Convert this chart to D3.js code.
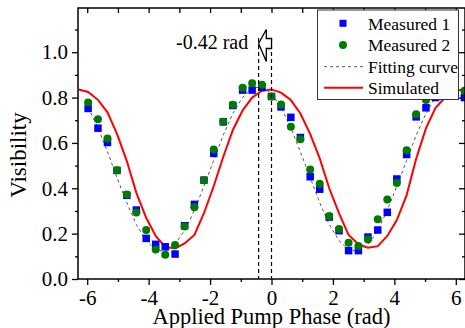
<!DOCTYPE html>
<html>
<head>
<meta charset="utf-8">
<script src="https://cdn.jsdelivr.net/npm/d3@7"></script>
<style>
  html, body { margin: 0; padding: 0; background: #fff; }
  svg { display: block; font-family: "Liberation Serif", "Times New Roman", serif; }
</style>
</head>
<body>
<svg id="chart" width="465" height="328"></svg>
<script>
// phase grid (rad), steps of pi/10
const phase = [-6.28, -5.97, -5.65, -5.34, -5.03, -4.71, -4.40, -4.08, -3.77, -3.46,
  -3.14, -2.83, -2.51, -2.20, -1.88, -1.57, -1.26, -0.94, -0.63, -0.31,
  0.00, 0.31, 0.63, 0.94, 1.26, 1.57, 1.88, 2.20, 2.51, 2.83,
  3.14, 3.46, 3.77, 4.08, 4.40, 4.71, 5.03, 5.34, 5.65, 5.97, 6.28];

// measured points start at the second grid value
const measured1 = [0.752, 0.665, 0.602, 0.479, 0.369, 0.304, 0.179, 0.153, 0.142,
  0.110, 0.235, 0.329, 0.436, 0.554, 0.693, 0.765, 0.833, 0.833, 0.845,
  0.805, 0.759, 0.713, 0.624, 0.451, 0.396, 0.273, 0.213, 0.125, 0.125,
  0.185, 0.216, 0.294, 0.441, 0.549, 0.715, 0.755, 0.800, 0.830, 0.840, 0.800];
const measured2 = [0.778, 0.704, 0.620, 0.479, 0.373, 0.293, 0.216, 0.130, 0.107,
  0.150, 0.232, 0.316, 0.435, 0.571, 0.693, 0.768, 0.843, 0.863, 0.857,
  0.805, 0.770, 0.671, 0.616, 0.483, 0.420, 0.278, 0.221, 0.160, 0.146,
  0.174, 0.263, 0.351, 0.423, 0.568, 0.726, 0.789, 0.810, 0.840, 0.850, 0.830];
const fitting = [0.756, 0.667, 0.561, 0.447, 0.336, 0.240, 0.169, 0.128, 0.122,
  0.152, 0.214, 0.303, 0.409, 0.523, 0.634, 0.730, 0.801, 0.842, 0.848,
  0.818, 0.756, 0.667, 0.561, 0.447, 0.336, 0.240, 0.169, 0.128, 0.122,
  0.152, 0.214, 0.303, 0.409, 0.523, 0.634, 0.730, 0.801, 0.842, 0.848, 0.818];
// simulated curve covers the whole grid
const simulated = [0.836, 0.825, 0.790, 0.735, 0.640, 0.520, 0.380, 0.270, 0.190,
  0.142, 0.135, 0.157, 0.194, 0.290, 0.410, 0.539, 0.656, 0.744, 0.800, 0.830,
  0.836, 0.822, 0.789, 0.730, 0.639, 0.532, 0.400, 0.289, 0.194, 0.153,
  0.138, 0.145, 0.190, 0.260, 0.370, 0.530, 0.665, 0.755, 0.800, 0.830, 0.836];

const xMajor = [-6, -4, -2, 0, 2, 4, 6];
const xMinor = [-5, -3, -1, 1, 3, 5];
const yMajor = [0.0, 0.2, 0.4, 0.6, 0.8, 1.0];
const yMinor = [0.1, 0.3, 0.5, 0.7, 0.9, 1.1];
const legendNames = ["Measured 1", "Measured 2", "Fitting curve", "Simulated"];
const phaseShift = -0.42;

const plotL = 78, plotR = 465, plotT = 8, plotB = 279;
const svg = d3.select("#chart");

const x = d3.scaleLinear().domain([-6.3, 6.3]).range([plotL, plotR]);
const y = d3.scaleLinear().domain([0, 1.195]).range([plotB, plotT]);

svg.append("defs").append("clipPath").attr("id", "plot-clip")
  .append("rect").attr("x", plotL).attr("y", plotT)
  .attr("width", plotR - plotL).attr("height", plotB - plotT);

const plot = svg.append("g").attr("clip-path", "url(#plot-clip)");

const pts = (vals, offset) => vals.map((v, i) => [phase[i + offset], v]);
const line = d3.line().x(d => x(d[0])).y(d => y(d[1]));

// simulated (red)
plot.append("path")
  .attr("d", line(pts(simulated, 0)))
  .attr("fill", "none").attr("stroke", "#ff0000").attr("stroke-width", 2);

// fitting curve (grey dashed)
plot.append("path")
  .attr("d", line(pts(fitting, 1)))
  .attr("fill", "none").attr("stroke", "#555").attr("stroke-width", 1)
  .attr("stroke-dasharray", "3,3");

// measured 1: blue squares
const sq = 7.5;
plot.selectAll(".m1").data(pts(measured1, 1)).enter()
  .append("rect").attr("class", "m1")
  .attr("x", d => x(d[0]) - sq / 2).attr("y", d => y(d[1]) - sq / 2)
  .attr("width", sq).attr("height", sq)
  .attr("fill", "#0000ff");

// measured 2: green circles
plot.selectAll(".m2").data(pts(measured2, 1)).enter()
  .append("circle").attr("class", "m2")
  .attr("cx", d => x(d[0])).attr("cy", d => y(d[1])).attr("r", 4)
  .attr("fill", "#007a00");

// vertical dashed markers at -0.42 and 0
[phaseShift, 0].forEach(p => {
  svg.append("line")
    .attr("x1", x(p)).attr("x2", x(p))
    .attr("y1", 38).attr("y2", plotB)
    .attr("stroke", "#000").attr("stroke-width", 1.2)
    .attr("stroke-dasharray", "4,3");
});

// hollow arrow pointing to -0.42
const ax0 = x(phaseShift), ax1 = x(0), am = ax0 + 7.7, ay = 43.5;
svg.append("path")
  .attr("d", `M${ax0},${ay} L${am},${ay - 14} L${am},${ay - 5} L${ax1},${ay - 5} L${ax1},${ay + 5} L${am},${ay + 5} L${am},${ay + 18} Z`)
  .attr("fill", "#fff").attr("stroke", "#000").attr("stroke-width", 1.3)
  .attr("stroke-linejoin", "miter");

svg.append("text")
  .attr("x", 176).attr("y", 49)
  .style("font-size", "20px").attr("fill", "#000")
  .text("-0.42 rad");

// axes
function styleAxis(g) {
  g.select(".domain").remove();
  g.selectAll("line").attr("stroke", "#000").attr("stroke-width", 1.3);
  g.selectAll("text").style("font-size", "21px").attr("fill", "#000")
    .style("font-family", "'Liberation Serif', 'Times New Roman', serif");
}
const fmtY = d => d.toFixed(1);

svg.append("g").attr("transform", `translate(${plotL},0)`)
  .call(d3.axisLeft(y).tickValues(yMajor).tickFormat(fmtY).tickSize(6).tickPadding(4))
  .call(styleAxis);
svg.append("g").attr("transform", `translate(${plotL},0)`)
  .call(d3.axisLeft(y).tickValues(yMinor).tickFormat("").tickSize(3))
  .call(styleAxis);
svg.append("g").attr("transform", `translate(${plotR},0)`)
  .call(d3.axisRight(y).tickValues(yMajor).tickFormat("").tickSize(-6))
  .call(styleAxis);
svg.append("g").attr("transform", `translate(${plotR},0)`)
  .call(d3.axisRight(y).tickValues(yMinor).tickFormat("").tickSize(-3))
  .call(styleAxis);

svg.append("g").attr("transform", `translate(0,${plotB})`)
  .call(d3.axisBottom(x).tickValues(xMajor).tickFormat(d => String(d)).tickSize(6).tickPadding(5))
  .call(styleAxis);
svg.append("g").attr("transform", `translate(0,${plotB})`)
  .call(d3.axisBottom(x).tickValues(xMinor).tickFormat("").tickSize(3))
  .call(styleAxis);
svg.append("g").attr("transform", `translate(0,${plotT})`)
  .call(d3.axisTop(x).tickValues(xMajor.concat(xMinor)).tickFormat("").tickSize(-5))
  .call(styleAxis);

// frame
svg.append("rect")
  .attr("x", plotL).attr("y", plotT)
  .attr("width", plotR - plotL).attr("height", plotB - plotT)
  .attr("fill", "none").attr("stroke", "#000").attr("stroke-width", 1.5);

// axis titles
svg.append("text")
  .attr("x", (plotL + plotR) / 2).attr("y", 324)
  .attr("text-anchor", "middle")
  .style("font-size", "22.5px").attr("fill", "#000")
  .text("Applied Pump Phase (rad)");

svg.append("text")
  .attr("transform", "translate(26,155) rotate(-90)")
  .attr("text-anchor", "middle")
  .style("font-size", "23px").attr("fill", "#000")
  .text("Visibility");

// legend
const lg = svg.append("g");
lg.append("rect")
  .attr("x", 317.5).attr("y", 10).attr("width", 141).attr("height", 89.5)
  .attr("fill", "#fff").attr("stroke", "#333").attr("stroke-width", 1);

const rowY = [23.3, 45, 66.7, 87.8];
const symX = 343;
lg.append("rect").attr("x", symX - 3.5).attr("y", rowY[0] - 3.5)
  .attr("width", 7).attr("height", 7).attr("fill", "#0000ff");
lg.append("circle").attr("cx", symX).attr("cy", rowY[1]).attr("r", 4).attr("fill", "#007a00");
lg.append("line").attr("x1", 324).attr("x2", 363).attr("y1", rowY[2]).attr("y2", rowY[2])
  .attr("stroke", "#555").attr("stroke-width", 1).attr("stroke-dasharray", "3,3");
lg.append("line").attr("x1", 324).attr("x2", 363).attr("y1", rowY[3]).attr("y2", rowY[3])
  .attr("stroke", "#ff0000").attr("stroke-width", 2);

lg.selectAll(".lt").data(legendNames).enter()
  .append("text").attr("class", "lt")
  .attr("x", 368).attr("y", (d, i) => rowY[i] + 6.2)
  .style("font-size", "17.5px").attr("fill", "#000")
  .text(d => d);
</script>
</body>
</html>
